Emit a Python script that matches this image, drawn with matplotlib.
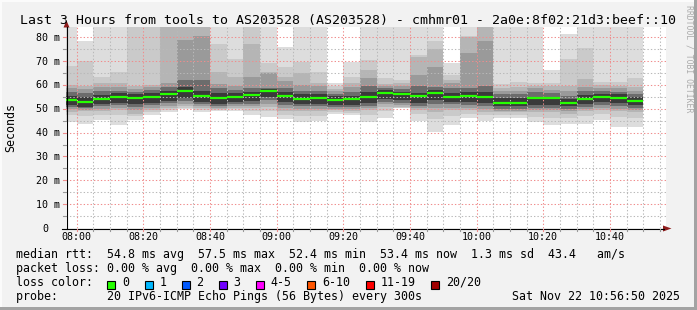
import matplotlib
matplotlib.use("Agg")
import matplotlib.pyplot as plt
from matplotlib.patches import Rectangle, Polygon
from matplotlib.transforms import blended_transform_factory as blend, offset_copy

# ---------------- data ----------------
# start of each 5-minute step, in minutes after 08:00
bar_start = list(range(-5, 170, 5))

median = [53.7, 53.0, 54.2, 55.1, 54.6, 55.0, 56.0, 57.5, 55.4, 54.6, 55.1, 55.8, 57.5, 55.5, 54.2,
          54.7, 53.8, 54.1, 54.9, 56.6, 56.0, 55.3, 56.6, 55.0, 55.3, 55.0, 52.4, 52.4, 54.7, 54.7,
          52.4, 54.1, 55.0, 54.7, 53.4]

# upper edges of the smoke bands (outer -> inner), ms
hi1 = [84.4, 78.2, 84.4, 84.4, 84.4, 84.4, 84.4, 84.4, 84.4, 84.4, 84.4, 84.4, 84.4, 76.0, 84.4,
       84.4, 61.0, 69.8, 84.4, 84.4, 84.4, 84.4, 84.4, 69.0, 84.4, 84.4, 84.4, 84.4, 84.4, 66.3,
       81.5, 84.4, 84.4, 84.4, 84.4]
hi2 = [68.1, 70.0, 63.5, 65.6, 84.4, 84.4, 84.4, 84.4, 84.4, 77.0, 71.0, 84.4, 69.0, 67.3, 69.5,
       65.6, 59.5, 63.5, 70.5, 62.8, 62.0, 72.6, 78.6, 64.0, 80.6, 84.4, 60.5, 61.2, 61.0, 61.0,
       70.8, 75.4, 61.4, 61.4, 62.8]
hi3 = [60.0, 59.5, 60.7, 60.6, 59.5, 60.0, 84.4, 84.4, 84.4, 65.5, 63.5, 77.3, 65.6, 63.5, 65.0,
       61.0, 58.3, 61.0, 66.3, 60.5, 61.0, 71.5, 75.0, 62.0, 80.0, 84.4, 58.8, 59.0, 59.5, 59.5,
       59.5, 62.4, 60.0, 59.5, 59.3]
hi4 = [58.8, 58.2, 59.0, 59.2, 58.3, 59.0, 60.8, 78.8, 80.5, 60.2, 59.5, 63.5, 65.0, 61.5, 60.0,
       59.5, 57.3, 59.3, 63.0, 59.5, 59.5, 64.2, 67.7, 60.8, 73.4, 78.5, 57.5, 57.5, 58.5, 58.0,
       57.5, 59.3, 58.8, 58.5, 57.5]
hi5 = [57.2, 56.8, 57.5, 57.5, 57.0, 57.8, 59.3, 62.1, 62.1, 58.5, 58.0, 58.6, 58.8, 58.5, 57.5,
       57.5, 56.3, 57.0, 59.5, 58.5, 58.2, 59.5, 59.3, 58.5, 58.6, 59.5, 56.0, 56.0, 57.0, 56.5,
       55.5, 57.5, 57.5, 57.2, 56.0]
hi6 = [55.5, 54.8, 55.8, 56.5, 56.0, 56.5, 57.5, 59.0, 57.5, 56.5, 56.8, 57.2, 58.3, 57.0, 56.0,
       56.2, 55.2, 55.5, 57.0, 57.8, 57.2, 56.8, 58.0, 56.5, 57.0, 57.0, 54.5, 54.5, 55.0, 55.0,
       54.0, 55.8, 56.2, 56.0, 54.8]
# lower edges of the smoke bands (inner -> outer), ms
lo6 = [51.5, 50.8, 51.8, 52.5, 51.8, 52.5, 53.2, 54.5, 53.0, 52.0, 53.0, 53.3, 55.0, 52.8, 52.0,
       52.0, 51.6, 51.5, 52.3, 54.2, 53.5, 52.5, 53.8, 53.0, 52.8, 52.3, 51.0, 51.0, 51.6, 51.6,
       51.0, 52.0, 52.8, 52.5, 51.5]
lo5 = [50.8, 50.2, 51.0, 51.5, 50.8, 51.5, 52.2, 53.3, 52.0, 51.2, 52.0, 52.0, 53.5, 51.5, 51.0,
       51.0, 50.8, 50.6, 51.2, 53.0, 52.3, 51.3, 52.0, 51.8, 51.5, 51.0, 50.0, 50.0, 50.5, 50.5,
       50.0, 50.8, 51.5, 51.0, 50.5]
lo4 = [49.8, 49.6, 50.0, 50.5, 49.5, 50.5, 51.2, 52.0, 51.0, 50.5, 51.0, 51.0, 52.0, 50.3, 50.0,
       50.0, 50.0, 49.8, 50.2, 51.8, 51.5, 50.3, 50.3, 50.5, 50.5, 50.0, 49.2, 49.2, 49.5, 49.5,
       49.0, 49.8, 50.5, 50.0, 49.5]
lo3 = [48.8, 49.0, 49.0, 49.5, 48.0, 49.5, 50.2, 51.0, 50.2, 49.8, 50.3, 50.2, 50.9, 49.0, 49.0,
       49.0, 49.3, 49.0, 49.3, 50.8, 50.8, 49.5, 48.5, 49.5, 49.5, 48.8, 48.5, 48.5, 48.6, 48.5,
       48.0, 49.0, 49.5, 49.0, 48.5]
lo2 = [47.5, 47.0, 47.5, 47.5, 47.0, 48.5, 49.5, 50.5, 49.5, 49.3, 49.8, 49.0, 49.0, 47.5, 47.0,
       47.0, 48.5, 48.3, 47.5, 49.0, 50.4, 47.8, 45.5, 47.0, 48.0, 47.3, 47.5, 47.3, 46.5, 46.0,
       46.0, 47.0, 48.0, 46.5, 46.0]
lo1 = [44.6, 43.7, 45.3, 43.2, 45.3, 47.4, 48.8, 50.0, 48.8, 49.0, 49.2, 47.4, 46.7, 45.6, 44.3,
       45.0, 47.6, 47.4, 44.6, 46.0, 50.2, 45.0, 40.2, 43.0, 46.0, 45.0, 46.0, 46.0, 44.3, 43.3,
       43.4, 43.6, 45.3, 42.5, 42.2]

x_ticks = [0, 20, 40, 60, 80, 100, 120, 140, 160]
x_tick_labels = ["08:00", "08:20", "08:40", "09:00", "09:20", "09:40", "10:00", "10:20", "10:40"]
y_ticks = [0, 10, 20, 30, 40, 50, 60, 70, 80]
y_tick_labels = ["0", "10 m", "20 m", "30 m", "40 m", "50 m", "60 m", "70 m", "80 m"]

title = "Last 3 Hours from tools to AS203528 (AS203528) - cmhmr01 - 2a0e:8f02:21d3:beef::10"
stats_line = "median rtt:  54.8 ms avg  57.5 ms max  52.4 ms min  53.4 ms now  1.3 ms sd  43.4   am/s"
loss_line = "packet loss: 0.00 % avg  0.00 % max  0.00 % min  0.00 % now"
probe_line = "probe:       20 IPv6-ICMP Echo Pings (56 Bytes) every 300s"
date_text = "Sat Nov 22 10:56:50 2025"
loss_labels = ["0", "1", "2", "3", "4-5", "6-10", "11-19", "20/20"]
loss_colors = ["#26ff00", "#00b8ff", "#0059ff", "#7100ff", "#ff00ff", "#ff5500", "#ff0000", "#a10000"]

# ---------------- figure ----------------
W, H, DPI = 697, 310, 100
MONO = "DejaVu Sans Mono"
BG = "#f2f2f2"
fig = plt.figure(figsize=(W / DPI, H / DPI), dpi=DPI, facecolor=BG)

x0 = -(3 + 10 / 60)          # 07:56:50
x1 = x0 + 180                # 10:56:50
y_top = 84.4

ax_left, ax_right, ax_top, ax_bottom = 66, 666, 26.7, 228
ax = fig.add_axes([ax_left / W, (H - ax_bottom) / H, (ax_right - ax_left) / W, (ax_bottom - ax_top) / H])
ax.set_xlim(x0, x1)
ax.set_ylim(0, y_top)
ax.set_facecolor("white")
for s in ax.spines.values():
    s.set_visible(False)
ax.set_xticks([])
ax.set_yticks([])

# smoke bands
bands = [(lo1, hi1, "#dddddd"), (lo2, hi2, "#cacaca"), (lo3, hi3, "#b5b5b5"),
         (lo4, hi4, "#9a9a9a"), (lo5, hi5, "#6c6c6c"), (lo6, hi6, "#3a3a3a")]
for lo, hi, c in bands:
    ax.bar(bar_start, [h - l for h, l in zip(hi, lo)], bottom=lo, width=5, align="edge",
           color=c, linewidth=0, zorder=1, antialiased=False)

# grid (drawn over the smoke, as rrdtool does)
dots = (0, (1.3, 2.0))
minor_c, major_c = "#b9b9b9", "#f08c8c"
for v in range(5, 85, 10):
    ax.axhline(v, color=minor_c, lw=0.75, ls=dots, zorder=2)
for v in y_ticks[1:]:
    ax.axhline(v, color=major_c, lw=0.75, ls=dots, zorder=2)
for t in range(0, 180, 5):
    if t % 20:
        ax.axvline(t, color=minor_c, lw=0.75, ls=dots, zorder=2)
for t in x_ticks:
    ax.axvline(t, color=major_c, lw=0.75, ls=dots, zorder=2)

# median line
ax.hlines(median, bar_start, [s + 5 for s in bar_start], colors="#26ff00", lw=1.6, zorder=4)

# ---------------- overlay in pixel coordinates ----------------
ov = fig.add_axes([0, 0, 1, 1], facecolor="none")
ov.set_xlim(0, W)
ov.set_ylim(H, 0)
ov.axis("off")

# frame of the image
ov.add_patch(Rectangle((0, 0), W, 1.5, color="#fbfbfb", lw=0))
ov.add_patch(Rectangle((0, 0), 1.5, H, color="#fbfbfb", lw=0))
ov.add_patch(Rectangle((W - 3.5, 0), 3.5, H, color="#a3a3a3", lw=0))
ov.add_patch(Rectangle((0, H - 3.5), W, 3.5, color="#a3a3a3", lw=0))

# axis lines and arrows
ov.plot([ax_left + 0.5, ax_left + 0.5], [ax_bottom + 1, 27], color="black", lw=0.8)
ov.plot([62, 664], [ax_bottom + 0.5, ax_bottom + 0.5], color="black", lw=0.8)
arrow_c = "#8e1c1c"
ov.add_patch(Polygon([(ax_left - 2.5, 27.5), (ax_left + 3.5, 27.5), (ax_left + 0.5, 20.5)], color=arrow_c, lw=0))
ov.add_patch(Polygon([(663, ax_bottom - 2.5), (663, ax_bottom + 3.5), (671.5, ax_bottom + 0.5)], color=arrow_c, lw=0))

# tick marks
tx = blend(ax.transData, ov.transData)
for t in range(0, 180, 5):
    c = major_c if t % 20 == 0 else "#999999"
    ov.plot([t, t], [ax_bottom + 1, ax_bottom + 3], color=c, lw=0.8, transform=tx)
ty = blend(ov.transData, ax.transData)
for v in range(5, 85, 5):
    c = major_c if v % 10 == 0 else "#999999"
    ov.plot([ax_left - 3, ax_left], [v, v], color=c, lw=0.8, transform=ty)

# tick labels
tick_fs = 7.2
pitch_tick = tick_fs / 72 * DPI * 0.602
for t, lab in zip(x_ticks, x_tick_labels):
    ov.text(t, 240, lab, transform=tx, ha="center", va="baseline", fontsize=tick_fs, family=MONO)
ty_lab = offset_copy(ty, fig=fig, x=0, y=-3.6, units="dots")
for v, lab in zip(y_ticks, y_tick_labels):
    xr = 60 if " " in lab else 60 - 2 * pitch_tick
    ov.text(xr, v, lab, transform=ty_lab, ha="right", va="baseline", fontsize=tick_fs, family=MONO)

# titles
ov.text(348.5, 24, title, ha="center", va="baseline", fontsize=9.55, family=MONO)
ov.text(11, 127.5, "Seconds", rotation=90, ha="center", va="center", fontsize=8.4, family=MONO)
ov.text(688.5, 5, "RRDTOOL / TOBI OETIKER", rotation=270, ha="center", va="top",
        fontsize=5.9, family=MONO, color="#ababab")

# legend
leg_fs = 8.4
pitch = leg_fs / 72 * DPI * 0.602
lx = 16
ov.text(lx, 257.8, stats_line, ha="left", va="baseline", fontsize=leg_fs, family=MONO)
ov.text(lx, 271.8, loss_line, ha="left", va="baseline", fontsize=leg_fs, family=MONO)
ov.text(lx, 285.8, "loss color:", ha="left", va="baseline", fontsize=leg_fs, family=MONO)
ov.text(lx, 299.6, probe_line, ha="left", va="baseline", fontsize=leg_fs, family=MONO)
ov.text(680, 299.6, date_text, ha="right", va="baseline", fontsize=leg_fs, family=MONO)

bx = lx + 13 * pitch
for lab, col in zip(loss_labels, loss_colors):
    ov.add_patch(Rectangle((bx, 280.5), 8, 8, facecolor=col, edgecolor="black", lw=0.8))
    tx0 = bx + 14.7
    ov.text(tx0, 285.8, lab, ha="left", va="baseline", fontsize=leg_fs, family=MONO)
    bx = tx0 + len(lab) * pitch + 15.5

fig.savefig("out.png", dpi=DPI, facecolor=BG)
